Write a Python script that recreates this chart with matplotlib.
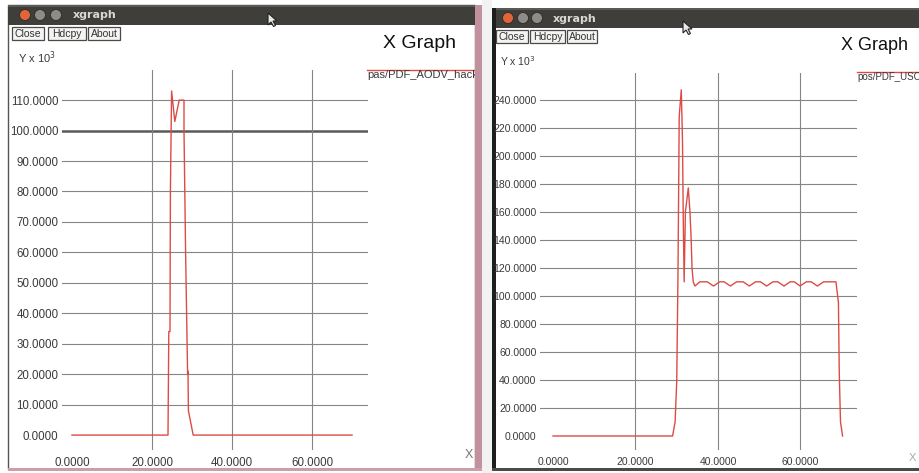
import matplotlib
matplotlib.use("Agg")
import matplotlib.pyplot as plt
from matplotlib.patches import Rectangle, Circle, Polygon

# ---- data (y values are x10^3) ----
x_ticks = [0, 20, 40, 60]
left_y_ticks = [0, 10, 20, 30, 40, 50, 60, 70, 80, 90, 100, 110]
right_y_ticks = [0, 20, 40, 60, 80, 100, 120, 140, 160, 180, 200, 220, 240]

left_legend = "pas/PDF_AODV_hack"
right_legend = "pos/PDF_USC"

left_x = [0, 24.0, 24.2, 24.5, 24.6, 24.9, 25.7, 26.8, 28.0, 28.0, 28.4, 28.9,
          29.0, 29.1, 30.3, 70.0]
left_y = [0, 0, 34, 34, 80, 113, 103, 110, 110, 100, 60, 20,
          21, 8, 0, 0]

right_x = [0, 29.0, 29.6, 30.0, 30.3, 30.6, 31.1, 31.4, 31.6, 31.8, 32.1, 32.8,
           33.2, 33.5, 33.7, 34.0, 34.4, 35.6, 37.4, 38.9, 40.4, 41.5, 43.0,
           44.5, 46.1, 47.6, 49.1, 50.3, 51.8, 53.3, 54.5, 56.0, 57.5, 58.5,
           59.9, 61.4, 62.6, 64.1, 65.6, 68.6, 69.2, 69.4, 69.7, 70.2]
right_y = [0, 0, 10, 39, 115, 228, 247, 210, 150, 110, 160, 177,
           160, 140, 120, 110, 107, 110, 110, 107, 110, 110, 107,
           110, 110, 107, 110, 110, 107, 110, 110, 107, 110, 110,
           107, 110, 110, 107, 110, 110, 95, 45, 10, 0]

W, H = 920, 473
RED = "#dc4b45"
GRID = "#858585"
TXT = "#3a3a3a"
TITLEBAR = "#3f3e3a"

fig = plt.figure(figsize=(9.2, 4.73), dpi=100)
bg = fig.add_axes([0, 0, 1, 1])
bg.set_xlim(0, W)
bg.set_ylim(H, 0)
bg.axis("off")


def px_axes(x0, y0, x1, y1):
    # axes placed in screen pixels (origin top-left)
    return fig.add_axes([x0 / W, 1 - y1 / H, (x1 - x0) / W, (y1 - y0) / H])


def rect(x0, y0, x1, y1, **kw):
    bg.add_patch(Rectangle((x0, y0), x1 - x0, y1 - y0, **kw))


def window_chrome(x0, y0, x1, title_bottom, buttons_y, btns, circles_x, title_x):
    rect(x0, y0, x1, title_bottom, facecolor=TITLEBAR, edgecolor="none", zorder=1)
    rect(x0, y0, x1, y0 + 2, facecolor="#5a5955", edgecolor="none", zorder=1)
    cy = (y0 + title_bottom) / 2
    cols = ["#e2643a", "#8d8c88", "#8d8c88"]
    for cx, c in zip(circles_x, cols):
        bg.add_patch(Circle((cx, cy), 5.5, facecolor=c, edgecolor="#2a2a28",
                            lw=0.6, zorder=2))
    bg.text(title_x, cy + 0.5, "xgraph", color="#d8d8d4", fontsize=8,
            fontweight="bold", family="DejaVu Sans", va="center", zorder=3)
    for bx0, bx1, label in btns:
        rect(bx0, buttons_y[0], bx1, buttons_y[1], facecolor="#f4f4f2",
             edgecolor="#4a4a4a", lw=0.9, zorder=2)
        bg.text((bx0 + bx1) / 2, (buttons_y[0] + buttons_y[1]) / 2 + 0.5, label,
                fontsize=7.5, color="#333333", ha="center", va="center",
                family="Liberation Sans", zorder=3)


def cursor(x, y):
    pts = [(0, 0), (0, 12), (3, 9), (5.5, 13.5), (7.5, 12.5), (5, 8), (9, 8)]
    bg.add_patch(Polygon([(x + a, y + b) for a, b in pts], closed=True,
                         facecolor="#e8e8e8", edgecolor="#222222", lw=0.8,
                         zorder=6))


# ---- window frames ----
rect(8, 5, 475, 469, facecolor="white", edgecolor="#555555", lw=1.0, zorder=0)
rect(475, 5, 482, 470, facecolor="#c3909d", edgecolor="none", zorder=5)
rect(8, 468, 482, 471, facecolor="#c9a0a8", edgecolor="none", zorder=5)
rect(482, 0, 492, H, facecolor="#f2f2f2", edgecolor="none", zorder=5)
rect(492, 8, W + 5, 470, facecolor="white", edgecolor="none", zorder=0)
rect(492, 8, 496, 471, facecolor="#1e1e1e", edgecolor="none", zorder=5)
rect(492, 468, W, 471, facecolor="#4a4a4a", edgecolor="none", zorder=5)

window_chrome(8, 5, 475, 25, (27, 40),
              [(12, 44, "Close"), (48, 86, "Hdcpy"), (88, 120, "About")],
              [25, 40, 56], 73)
window_chrome(492, 8, W + 5, 28, (30, 43),
              [(496, 528, "Close"), (530, 565, "Hdcpy"), (567, 597, "About")],
              [508, 523, 537], 553)

bg.text(18, 58, r"Y x 10$^3$", fontsize=8, color=TXT, va="center",
        family="Liberation Sans")
bg.text(500, 61, r"Y x 10$^3$", fontsize=7.5, color=TXT, va="center",
        family="Liberation Sans")
bg.text(383, 44, "X Graph", fontsize=14, color="#111111", va="center",
        family="Liberation Sans")
bg.text(841, 46, "X Graph", fontsize=13, color="#111111", va="center",
        family="Liberation Sans")

# legends (clipped by the window edges drawn above them)
bg.plot([367, 476], [70, 70], color=RED, lw=1.0, zorder=2)
bg.text(367, 75, left_legend, fontsize=8, color=TXT, va="center",
        family="Liberation Sans", zorder=2)
bg.plot([857, 921], [72, 72], color=RED, lw=1.0, zorder=2)
bg.text(857, 77, right_legend, fontsize=7, color=TXT, va="center",
        family="Liberation Sans", zorder=2)
bg.text(465, 455, "X", fontsize=9, color="#777777", va="center",
        family="Liberation Sans", zorder=2)
bg.text(909, 458, "X", fontsize=8, color="#aaaaaa", va="center",
        family="Liberation Sans", zorder=2)

cursor(268, 13)
cursor(683, 21)


def xgraph_axes(ax, xs, ys, yticks, xlim, ylim, fs, thick_at=None):
    ax.set_xlim(*xlim)
    ax.set_ylim(*ylim)
    ax.patch.set_alpha(0)
    for s in ax.spines.values():
        s.set_visible(False)
    for t in yticks:
        if t == 0:
            continue
        lw, col = (1.8, "#5a5a5a") if t == thick_at else (0.8, GRID)
        ax.axhline(t, color=col, lw=lw, zorder=1)
    for t in x_ticks[1:]:
        ax.axvline(t, color=GRID, lw=0.8, zorder=1)
    ax.plot(xs, ys, color=RED, lw=1.0, zorder=3)
    ax.set_yticks(yticks)
    ax.set_yticklabels([f"{t:.4f}" for t in yticks])
    ax.set_xticks(x_ticks)
    ax.set_xticklabels([f"{t:.4f}" for t in x_ticks])
    ax.tick_params(length=0, labelsize=fs, colors=TXT)
    ax.tick_params(axis="y", pad=2.5)
    ax.tick_params(axis="x", pad=5)
    for lab in ax.get_xticklabels() + ax.get_yticklabels():
        lab.set_family("Liberation Sans")


ax1 = px_axes(62, 70, 368, 450)
xgraph_axes(ax1, left_x, left_y, left_y_ticks, (-2.5, 74), (-4.9, 119.9),
            8.3, thick_at=100)

ax2 = px_axes(540, 73, 857, 450)
xgraph_axes(ax2, right_x, right_y, right_y_ticks, (-3.15, 73.7), (-10, 259),
            7.5)

fig.savefig("out.png", dpi=100)
